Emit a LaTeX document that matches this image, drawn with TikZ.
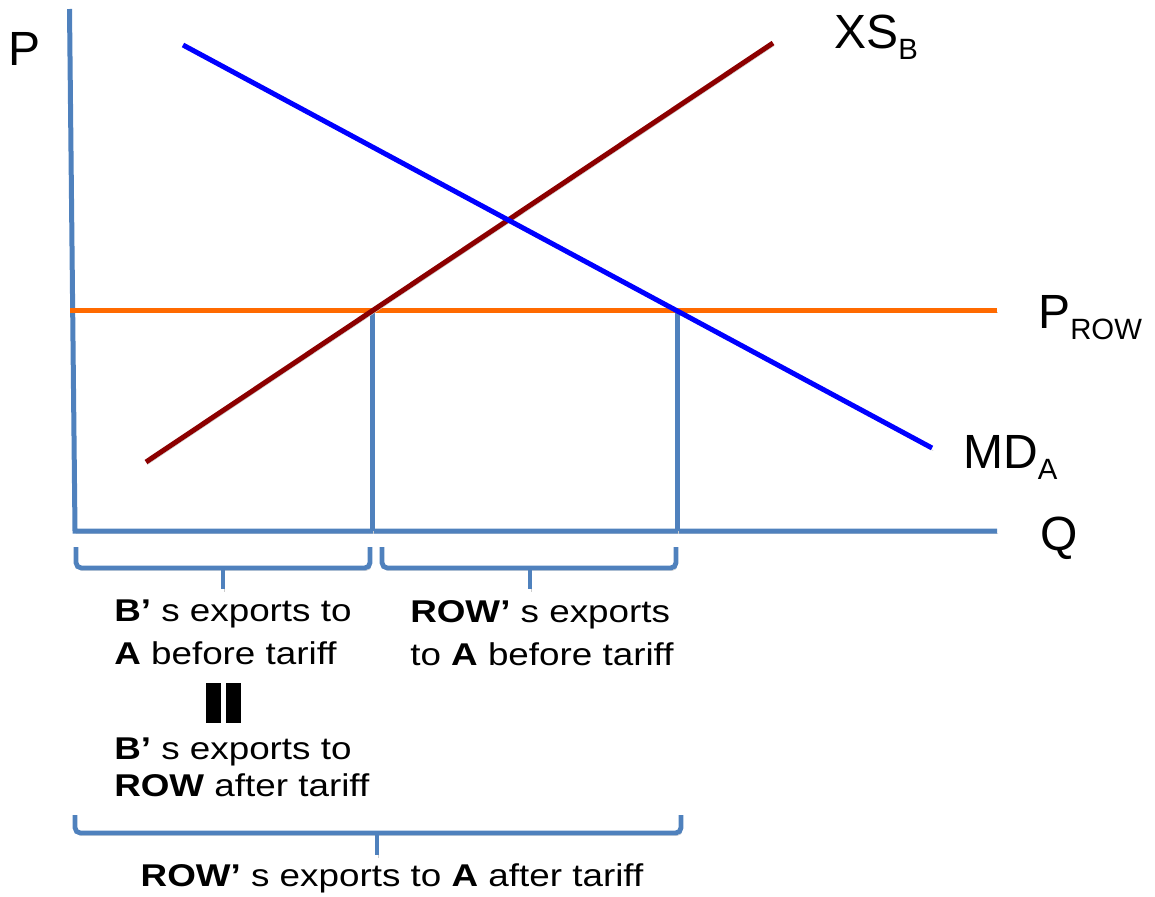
\documentclass[tikz,border=0pt]{standalone}
\usepackage{fontspec}
\setmainfont{Liberation Sans}
\newfontfamily\widefont[FakeStretch=1.17]{Liberation Sans}
\definecolor{axisblue}{HTML}{4F81BD}
\definecolor{proworange}{HTML}{FF6A00}
\definecolor{mdblue}{HTML}{0000FF}
\definecolor{xsred}{HTML}{8C0000}
\newcommand{\lsub}[1]{\raisebox{-8.5pt}{\fontsize{22}{22}\selectfont #1}}
\begin{document}
\begin{tikzpicture}[x=0.75pt,y=-0.75pt,
  shadowed/.style={preaction={draw=black!20, transform canvas={shift={(0.9pt,-2pt)}}}},
  axisline/.style={draw=axisblue, line width=3.75pt, shadowed},
  curve/.style={line width=3.75pt, shadowed},
  bracepath/.style={draw=axisblue, line width=3.6pt, rounded corners=4pt, shadowed},
  biglabel/.style={inner sep=0pt, anchor=base west, font=\fontsize{36}{36}\selectfont},
  expl/.style={inner sep=0pt, align=left, font=\widefont\fontsize{23.6}{32.25}\selectfont},
]
\useasboundingbox (0,0) rectangle (1155,896);

% coordinates
\coordinate (ptop) at (69.5,9);
\coordinate (orig) at (75,531);
\coordinate (qend) at (997,531);
\coordinate (prowl) at (70,310);
\coordinate (prowr) at (997,310);
\coordinate (v1t) at (372,310);
\coordinate (v1b) at (372,531);
\coordinate (v2t) at (677,310);
\coordinate (v2b) at (677,531);
\coordinate (mds) at (183,45);
\coordinate (mde) at (932,448);
\coordinate (xss) at (146,462);
\coordinate (xse) at (773,43);

% axes and verticals
\draw[axisline, line join=miter] (ptop) -- (orig) -- (qend);
\draw[axisline] (v1t) -- (v1b);
\draw[axisline] (v2t) -- (v2b);
% price line
\draw[curve, draw=proworange] (prowl) -- (prowr);
% curves
\draw[curve, draw=xsred] (xss) -- (xse);
\draw[curve, draw=mdblue] (mds) -- (mde);

% braces
\coordinate (b1l) at (76,547);
\coordinate (b1r) at (370,547);
\coordinate (b1m) at (223,568);
\coordinate (b1tip) at (223,589);
\draw[bracepath] (b1l) |- (b1m) -| (b1r);
\draw[bracepath] (b1m) -- (b1tip);

\coordinate (b2l) at (382,547);
\coordinate (b2r) at (676,547);
\coordinate (b2m) at (530,568);
\coordinate (b2tip) at (530,589);
\draw[bracepath] (b2l) |- (b2m) -| (b2r);
\draw[bracepath] (b2m) -- (b2tip);

\coordinate (b3l) at (75,815);
\coordinate (b3r) at (681,815);
\coordinate (b3m) at (377,833);
\coordinate (b3tip) at (377,855);
\draw[bracepath] (b3l) |- (b3m) -| (b3r);
\draw[bracepath] (b3m) -- (b3tip);

% labels
\node[biglabel] (lp) at (8,65) {P};
\node[biglabel] (lxs) at (834,48) {XS\lsub{B}};
\node[biglabel] (lprow) at (1038,328) {P\lsub{ROW}};
\node[biglabel] (lmd) at (963,468) {MD\lsub{A}};
\node[biglabel] (lq) at (1040,550) {Q};

% explanations
\node[expl, anchor=north west] (e1) at (114,600) {\textbf{B’} s exports to\\\textbf{A} before tariff};
\node[expl, anchor=north west] (e2) at (410,600) {\textbf{ROW’} s exports\\to \textbf{A} before tariff};
\node[inner sep=0pt, anchor=north west] (eq) at (206,683) {\rule{11.25pt}{30pt}\hspace{3.75pt}\rule{11.25pt}{30pt}};
\node[expl, anchor=north west, font=\widefont\fontsize{23.6}{27.3}\selectfont] (e3) at (114,738) {\textbf{B’} s exports to\\\textbf{ROW} after tariff};
\node[expl, anchor=north] (e4) at (392,863) {\textbf{ROW’} s exports to \textbf{A} after tariff};
\end{tikzpicture}
\end{document}
